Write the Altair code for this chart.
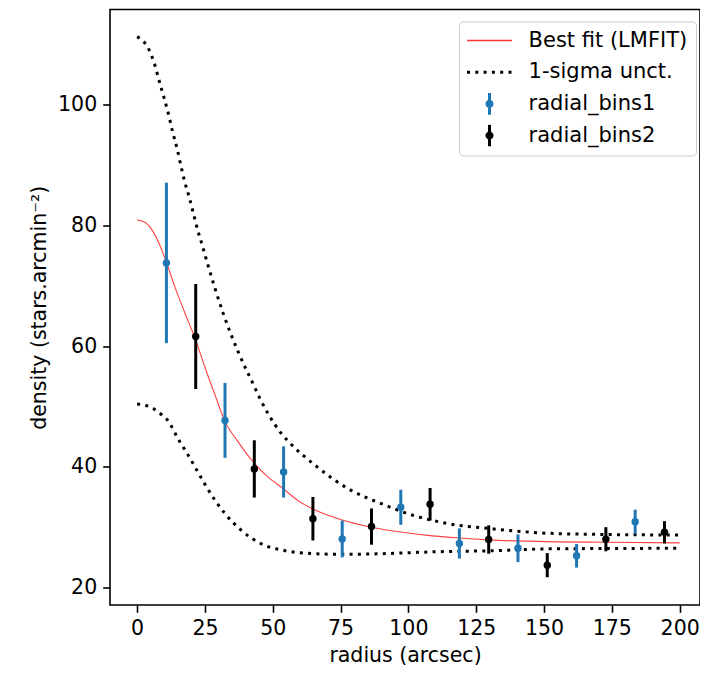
import altair as alt
import pandas as pd

# ---------------- data ----------------
r_bins1 = [10.8, 32.4, 54.0, 75.6, 97.2, 118.8, 140.4, 162.0, 183.6]
dens_bins1 = [73.8, 47.7, 39.15, 28.05, 33.3, 27.3, 26.5, 25.25, 30.9]
err_bins1 = [13.3, 6.2, 4.25, 3.05, 2.9, 2.5, 2.3, 1.95, 2.0]

r_bins2 = [21.6, 43.2, 64.8, 86.4, 108.0, 129.6, 151.2, 172.8, 194.4]
dens_bins2 = [61.6, 39.65, 31.4, 30.1, 33.8, 27.95, 23.7, 28.0, 29.15]
err_bins2 = [8.7, 4.75, 3.6, 3.0, 2.7, 2.35, 2.0, 2.0, 1.85]

fit_r = [0, 3, 6, 8.5, 10.8, 14, 17.8, 21.6, 25, 28.8, 32.2, 37.3, 42.8, 48.3,
         53.8, 59.3, 64.8, 75.6, 86.4, 97.2, 108, 118.8, 129.6, 151.2, 172.8, 200]
fit_v = [80.9, 80.5, 78.9, 76.6, 73.9, 69.7, 65.3, 61.0, 56.5, 51.8, 47.7, 44.1,
         40.8, 38.3, 36.4, 34.4, 33.0, 31.2, 30.0, 29.2, 28.6, 28.2, 27.9, 27.6,
         27.5, 27.4]

upper_r = [0, 4.4, 6.6, 8.3, 10.1, 11.7, 13.1, 14.7, 16.1, 17.5, 19.2, 20.8, 22.4,
           23.3, 26.0, 31.6, 37.3, 42.8, 45.3, 48.3, 53.2, 56, 65.5, 77.7, 90,
           102.2, 114.5, 131.5, 151, 170, 200]
upper_v = [111.3, 109.1, 106.5, 103.7, 100.9, 98.2, 95.5, 92.8, 90.0, 87.3, 84.7,
           81.9, 79.1, 77.8, 73.6, 65.6, 59.0, 53.7, 51.3, 48.8, 45.5, 44.1, 40.3,
           36.4, 33.9, 31.9, 30.6, 29.7, 29.0, 28.8, 28.7]

lower_r = [0, 3, 6.2, 8.6, 11.1, 15.4, 19.0, 22.7, 25.4, 28.8, 32.5, 38.6, 46,
           54.6, 65.6, 75.5, 90, 108.4, 131.7, 151, 200]
lower_v = [50.4, 50.2, 49.6, 48.8, 47.8, 44.4, 41.8, 38.9, 36.8, 34.4, 32.2, 29.4,
           27.2, 26.1, 25.6, 25.5, 25.6, 25.9, 26.1, 26.4, 26.5]

legend_labels = ["Best fit (LMFIT)", "1-sigma unct.", "radial_bins1", "radial_bins2"]
legend_colors = ["#ff3030", "#000000", "#1f77b4", "#000000"]

x_ticks = [0, 25, 50, 75, 100, 125, 150, 175, 200]
y_ticks = [20, 40, 60, 80, 100]

FONT = "DejaVu Sans"
FS = 20.5

# ---------------- legend symbol shapes (unit square -1..1) ----------------
def rect(x0, y0, w, h):
    return f"M{x0:.3f},{y0:.3f}h{w:.3f}v{h:.3f}h{-w:.3f}Z"

line_path = rect(-1, -0.03, 2, 0.06)
dots = []
x0 = -1.0
while x0 < 1.0 - 0.05:
    dots.append(rect(x0, -0.067, 0.133, 0.133))
    x0 += 0.369
dot_path = " ".join(dots)
cr = 0.18
err_path = (rect(-0.067, -0.48, 0.134, 0.96) +
            f" M{cr},0A{cr},{cr} 0 1,1 {-cr},0A{cr},{cr} 0 1,1 {cr},0Z")
legend_shapes = [line_path, dot_path, err_path, err_path]

# ---------------- tables ----------------
fit_df = pd.DataFrame({"r": fit_r, "v": fit_v})
band_df = pd.concat([
    pd.DataFrame({"r": upper_r, "v": upper_v, "band": "upper"}),
    pd.DataFrame({"r": lower_r, "v": lower_v, "band": "lower"}),
])
b1 = pd.DataFrame({"r": r_bins1, "v": dens_bins1,
                   "lo": [d - e for d, e in zip(dens_bins1, err_bins1)],
                   "hi": [d + e for d, e in zip(dens_bins1, err_bins1)]})
b2 = pd.DataFrame({"r": r_bins2, "v": dens_bins2,
                   "lo": [d - e for d, e in zip(dens_bins2, err_bins2)],
                   "hi": [d + e for d, e in zip(dens_bins2, err_bins2)]})
leg_df = pd.DataFrame({"series": legend_labels})

xs = alt.Scale(domain=[-10, 207.5], nice=False, zero=False)
ys = alt.Scale(domain=[17.1, 115.8], nice=False, zero=False)
xax = alt.Axis(values=x_ticks, title="radius (arcsec)")
yax = alt.Axis(values=y_ticks, title="density (stars.arcmin⁻²)")

X = alt.X("r:Q", scale=xs, axis=xax)
Y = alt.Y("v:Q", scale=ys, axis=yax)

fit_layer = alt.Chart(fit_df).mark_line(
    color="#ff2020", strokeWidth=1.1, opacity=0.85, interpolate="monotone"
).encode(x=X, y=Y, order="r:Q")

band_layer = alt.Chart(band_df).mark_line(
    color="black", strokeWidth=3, strokeDash=[3, 5.3], strokeCap="butt",
    interpolate="monotone"
).encode(x=X, y=Y, detail="band:N", order="r:Q")


def errbars(df, color):
    rules = alt.Chart(df).mark_rule(color=color, strokeWidth=3).encode(
        x=X, y=alt.Y("lo:Q", scale=ys, axis=yax), y2="hi:Q")
    pts = alt.Chart(df).mark_circle(color=color, size=55, opacity=1).encode(x=X, y=Y)
    return [rules, pts]


leg_kwargs = dict(
    title=None, orient="none", legendX=349, legendY=12, padding=8,
    fillColor="white", strokeColor="#cccccc", cornerRadius=4,
    symbolSize=2025, symbolStrokeWidth=0, symbolOpacity=1,
    labelFont=FONT, labelFontSize=21, labelColor="black",
    labelOffset=16.6, labelLimit=400, clipHeight=22, rowPadding=9.7,
)

legend_layer = alt.Chart(leg_df).transform_filter("false").mark_point(
    filled=True, opacity=1, strokeWidth=0
).encode(
    fill=alt.Fill("series:N", scale=alt.Scale(domain=legend_labels, range=legend_colors),
                  legend=alt.Legend(**leg_kwargs)),
    shape=alt.Shape("series:N", scale=alt.Scale(domain=legend_labels, range=legend_shapes),
                    legend=alt.Legend(**leg_kwargs)),
)

layers = [fit_layer, band_layer] + errbars(b1, "#1f77b4") + errbars(b2, "black") + [legend_layer]

chart = alt.layer(*layers).properties(
    width=590, height=595.5,
    padding={"left": 102, "top": 1.5, "right": 0, "bottom": 62},
    autosize=alt.AutoSizeParams(type="none"),
    background="white",
).configure_view(
    stroke="black", strokeWidth=1.6
).configure_axis(
    grid=False, domain=False,
    tickColor="black", tickWidth=1.6, tickSize=7.3,
    labelFont=FONT, labelFontSize=FS, labelColor="black",
    labelPadding=6, labelOverlap=False,
    titleFont=FONT, titleFontSize=FS, titleFontWeight="normal",
    titleColor="black", titlePadding=8,
).configure_axisX(
    labelPadding=6, titlePadding=7
)

chart.save("out.html", embed_options={"renderer": "svg", "actions": False})
